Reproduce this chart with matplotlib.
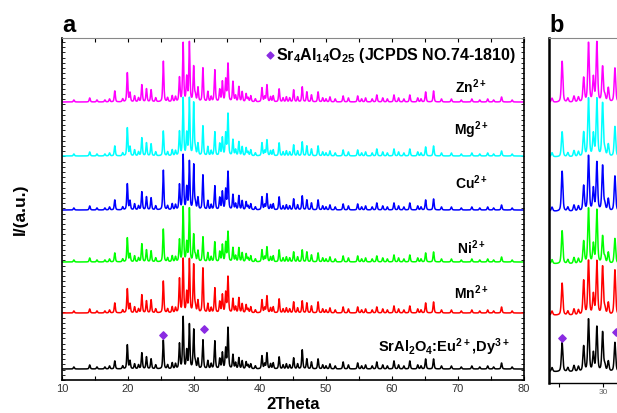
import numpy as np
import matplotlib
matplotlib.use("Agg")
import matplotlib.pyplot as plt
from matplotlib.ticker import MultipleLocator, NullFormatter, FixedLocator

plt.rcParams['font.family'] = ['Liberation Sans', 'DejaVu Sans']
plt.rcParams['mathtext.fontset'] = 'custom'
plt.rcParams['mathtext.rm'] = 'Liberation Sans:bold'
plt.rcParams['mathtext.bf'] = 'Liberation Sans:bold'
plt.rcParams['mathtext.default'] = 'bf'

# peak positions (2theta, deg)
pos = [14.2, 16.5, 18.0, 19.9, 20.3, 21.0, 22.1, 22.8, 23.5, 25.35, 26.7, 27.8,
       28.35, 28.9, 29.3, 29.95, 30.6, 31.35, 32.1, 33.15, 33.9, 34.3, 34.8, 35.15,
       35.9, 36.8, 37.3, 37.9, 38.6, 40.3, 41.05, 42.0, 42.9, 44.0, 45.1, 46.4,
       47.1, 47.8, 48.8, 50.6, 52.6, 54.8, 56.0, 57.7, 58.6, 60.3, 62.7, 63.9,
       65.1, 66.3, 69.0, 72.1, 74.5, 76.6]

# peak heights per sample (arbitrary units)
h_ref = [4, 2, 8, 24, 8, 5, 16, 12, 10, 29, 6, 25,
         52, 18, 44, 39, 10, 29, 8, 28, 10, 16, 20, 41,
         14, 11, 8, 7, 5, 13, 16, 6, 12, 5, 11, 19,
         10, 7, 10, 5, 7, 6, 4, 7, 4, 8, 8, 4,
         10, 10, 3, 3, 3, 6]
h_mn = [4, 2, 10, 24, 9, 6, 18, 12, 13, 32, 6, 34,
        54, 20, 53, 48, 12, 45, 9, 25, 11, 18, 20, 36,
        14, 15, 9, 8, 6, 13, 17, 6, 14, 5, 11, 12,
        10, 7, 11, 5, 6, 6, 4, 6, 4, 7, 7, 4,
        10, 11, 3, 3, 3, 6]
h_ni = [4, 2, 9, 24, 8, 6, 18, 12, 11, 33, 6, 22,
        55, 19, 53, 27, 11, 25, 9, 20, 10, 17, 19, 30,
        14, 14, 9, 8, 6, 12, 15, 6, 12, 5, 10, 12,
        10, 7, 9, 5, 6, 6, 4, 6, 4, 7, 7, 4,
        9, 10, 3, 3, 3, 5]
h_cu = [4, 2, 10, 26, 9, 6, 18, 13, 12, 40, 6, 25,
        55, 22, 48, 45, 12, 35, 9, 24, 12, 18, 20, 38,
        15, 14, 9, 8, 6, 13, 16, 6, 13, 5, 11, 14,
        10, 7, 10, 5, 6, 6, 4, 7, 4, 7, 7, 4,
        10, 11, 3, 3, 3, 5]
h_mg = [4, 2, 10, 28, 9, 6, 18, 13, 12, 25, 6, 24,
        58, 22, 57, 53, 12, 30, 9, 24, 12, 18, 22, 42,
        16, 14, 9, 8, 6, 13, 16, 6, 13, 5, 11, 14,
        10, 7, 10, 5, 6, 6, 4, 7, 4, 7, 7, 4,
        9, 10, 3, 3, 3, 5]
h_zn = [4, 2, 11, 29, 9, 6, 17, 13, 12, 41, 6, 24,
        59, 24, 59, 35, 14, 34, 10, 32, 12, 20, 22, 38,
        20, 15, 10, 8, 6, 14, 17, 6, 13, 5, 12, 15,
        10, 7, 10, 5, 6, 6, 4, 7, 4, 7, 7, 4,
        10, 11, 3, 3, 3, 5]

# weak reflections seen in every pattern
minor_pos = [11.8, 15.3, 17.2, 19.2, 21.6, 24.2, 26.0, 27.2, 30.2, 32.6, 36.3,
             38.2, 39.3, 40.7, 41.6, 43.5, 44.5, 45.7, 49.5, 50.0, 51.4, 53.4,
             55.4, 57.0, 59.3, 61.0, 61.8, 64.4, 67.5, 70.5, 73.3, 75.4, 78.2]
minor_h = [2, 2, 3, 3, 4, 4, 4, 5, 6, 5, 6,
           4, 3, 5, 5, 4, 4, 5, 4, 3, 3, 4,
           3, 3, 3, 4, 3, 3, 3, 2, 2, 2, 2]

samples = [h_ref, h_mn, h_ni, h_cu, h_mg, h_zn]
offsets = [11, 67, 118, 170, 224, 278]
colors = ['black', '#ff0000', '#00ff00', '#0000ff', '#00ffff', '#ff00ff']
ion_labels = ['SrAl$_2$O$_4$:Eu$^{2+}$,Dy$^{3+}$', 'Mn$^{2+}$', 'Ni$^{2+}$',
              'Cu$^{2+}$', 'Mg$^{2+}$', 'Zn$^{2+}$']
ion_y = [33, 87, 132, 197, 250, 293]

# Sr4Al14O25 marker positions on the reference pattern
mark_x = [25.35, 31.45]
mark_y = [45, 51]

tt = np.arange(10, 80.01, 0.02)


def pattern(heights, fwhm=0.2):
    y = np.zeros_like(tt)
    for p, h in zip(pos + minor_pos, list(heights) + minor_h):
        d = (tt - p) / (fwhm / 2)
        y += h * (0.5 / (1 + d ** 2) + 0.5 * np.exp(-np.log(2) * d ** 2))
    return y


fig = plt.figure(figsize=(6.17, 4.13), dpi=100)
W, H = 617, 413
ax = fig.add_axes([62 / W, (H - 380) / H, 462 / W, 342 / H])
axb = fig.add_axes([549 / W, (H - 383) / H, 150 / W, 345 / H])

for a in (ax, axb):
    for hs, off, c in zip(samples, offsets, colors):
        a.plot(tt, pattern(hs) + off, color=c, lw=1.1)
    a.scatter(mark_x, mark_y, marker='D', s=14, color='#8a2be2', zorder=5)
    a.set_ylim(0, 342)
    a.yaxis.set_major_locator(MultipleLocator(5.2))
    a.yaxis.set_major_formatter(NullFormatter())

ax.set_xlim(10, 80)
ax.xaxis.set_major_locator(MultipleLocator(10))
ax.xaxis.set_minor_locator(MultipleLocator(5))
ax.tick_params(axis='x', which='both', direction='in', top=True, labelsize=8,
               labelcolor='#333333', length=3, width=0.8, pad=3)
ax.tick_params(axis='y', direction='in', right=True, length=2, width=0.6)
for s in ('left', 'bottom', 'right'):
    ax.spines[s].set_linewidth(1.2)
ax.spines['top'].set_color('#888888')
ax.set_xlabel('2Theta', fontsize=12, fontweight='bold', labelpad=2)
ax.set_ylabel('I/(a.u.)', fontsize=12.5, fontweight='bold', labelpad=21)

for lab, yy in zip(ion_labels[1:], ion_y[1:]):
    ax.text(72.0, yy, lab, fontsize=10, fontweight='bold', ha='center', va='center')
ax.text(67.9, ion_y[0], ion_labels[0], fontsize=10.5, fontweight='bold',
        ha='center', va='center')

ax.scatter([41.5], [325], marker='D', s=12, color='#8a2be2')
ax.text(42.5, 325, 'Sr$_4$Al$_{14}$O$_{25}$ (JCPDS NO.74-1810)', fontsize=11.5,
        fontweight='bold', ha='left', va='center')

axb.set_xlim(23.86, 23.86 + 150 / 8.8)
axb.xaxis.set_major_locator(FixedLocator([30]))
axb.xaxis.set_minor_locator(FixedLocator([25, 35]))
axb.tick_params(axis='x', which='both', direction='out', labelsize=6,
                labelcolor='#666666', length=3, width=0.8, pad=1)
axb.tick_params(axis='y', left=False, labelleft=False)
axb.spines['left'].set_linewidth(1.8)
axb.spines['top'].set_color('#888888')
axb.spines['bottom'].set_linewidth(1.0)

fig.text(62 / W, 1 - 25 / H, 'a', fontsize=17, fontweight='bold', va='center')
fig.text(549 / W, 1 - 25 / H, 'b', fontsize=17, fontweight='bold', va='center')

fig.savefig('out.png', dpi=100)
